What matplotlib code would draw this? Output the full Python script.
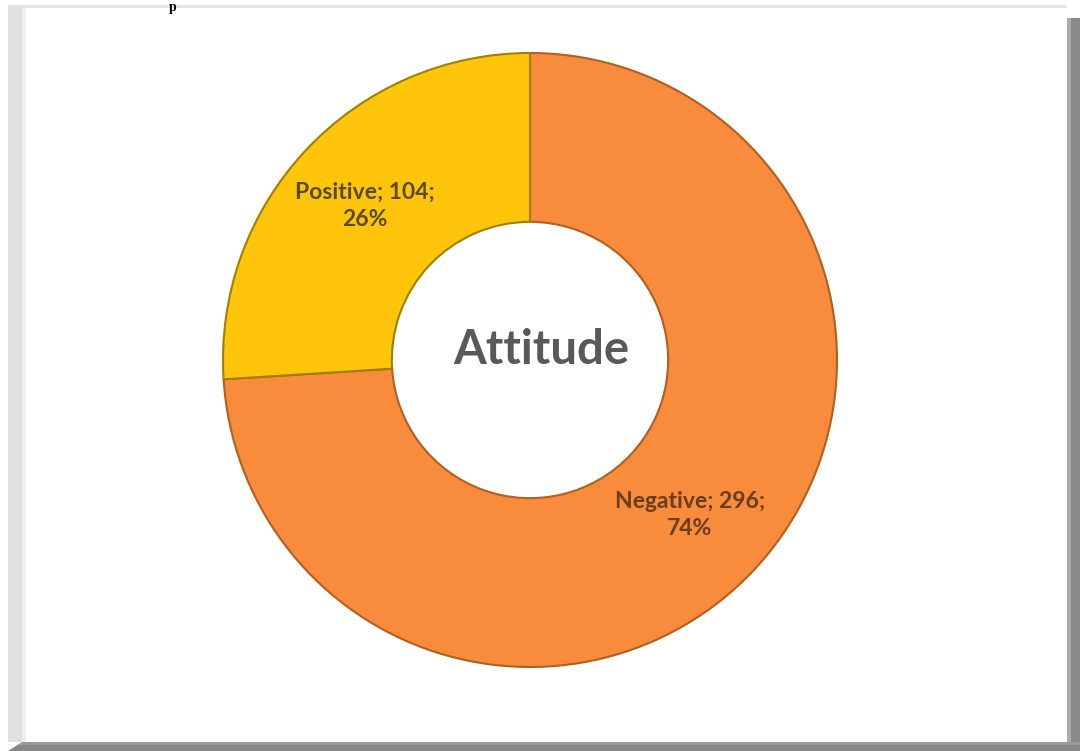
import matplotlib
matplotlib.use("Agg")
import matplotlib.pyplot as plt
from matplotlib.patches import Rectangle, Polygon

categories = ["Negative", "Positive"]
counts = [296, 104]
percents = ["74%", "26%"]
colors = ["#F98B3C", "#FFC50A"]
center_title = "Attitude"

W, H = 1080, 751
fig = plt.figure(figsize=(W / 100, H / 100), dpi=100)
fig.patch.set_facecolor("white")

def px_rect(x0, y0, x1, y1, color, z=0):
    fig.patches.append(Rectangle((x0 / W, 1 - y1 / H), (x1 - x0) / W, (y1 - y0) / H,
                                 transform=fig.transFigure, facecolor=color,
                                 edgecolor="none", zorder=z))

# frame with bevel / shadow
px_rect(8, 5, 1067, 8, "#e4e4e4")
px_rect(8, 6, 22, 742, "#e0e0e0")
px_rect(22, 8, 26, 742, "#f0f0f0")
px_rect(1067, 18, 1071, 751, "#a9a9a9")
px_rect(1071, 18, 1080, 751, "#8a8a8a")
px_rect(8, 742, 1080, 745, "#9a9a9a")
px_rect(8, 745, 1080, 751, "#888888")
fig.patches.append(Polygon([(8 / W, 1 - 742 / H), (22 / W, 1 - 742 / H), (8 / W, 1 - 751 / H)],
                           closed=True, transform=fig.transFigure, facecolor="white",
                           edgecolor="none", zorder=1))

# fragment of the page text above the chart
fig.text(173 / W, 1 - 1 / H, "p", fontsize=10, fontweight="bold", family="Liberation Serif",
         ha="center", va="top", color="black")

cx, cy, r = 530, 360, 307
ax = fig.add_axes([(cx - r) / W, (H - cy - r) / H, 2 * r / W, 2 * r / H])

wedges, _ = ax.pie(counts, colors=colors, startangle=90, counterclock=False, radius=1,
                   wedgeprops=dict(width=0.55, edgecolor="#b06020", linewidth=1.5))
wedges[1].set_edgecolor("#a08000")
ax.set_xlim(-1, 1)
ax.set_ylim(-1, 1)
ax.set_aspect("equal")
ax.axis("off")
for w in wedges:
    w.set_clip_on(False)

# labels
lab_pos = {"Negative": (690, 515), "Positive": (365, 206)}
lab_col = {"Negative": "#6a3d1e", "Positive": "#5a4a14"}
for cat, n, p in zip(categories, counts, percents):
    x, y = lab_pos[cat]
    fig.text(x / W, 1 - y / H, f"{cat}; {n};\n{p}", ha="center", va="center",
             fontsize=16.5, fontweight="bold", family="Lato", color=lab_col[cat],
             linespacing=1.35)

fig.text(541 / W, 1 - 350 / H, center_title, ha="center", va="center", fontsize=34,
         fontweight="bold", family="Lato", color="#595959")

fig.savefig("out.png", dpi=100)
